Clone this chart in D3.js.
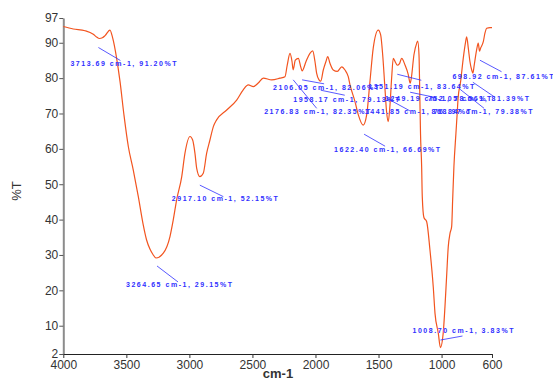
<!DOCTYPE html>
<html>
<head>
<meta charset="utf-8">
<script src="https://cdn.jsdelivr.net/npm/d3@7"></script>
<style>
  body { margin: 0; background: #fff; }
  text { font-family: "Liberation Sans", Arial, sans-serif; }
</style>
</head>
<body>
<svg id="chart" width="553" height="381"></svg>
<script>
// spectrum: wavenumber (cm-1) and transmittance (%T)
var wavenumbers = [4000, 3921, 3828, 3762, 3735, 3714, 3690, 3669, 3630, 3608, 3577, 3550, 3519,
    3484, 3445, 3405, 3366, 3340, 3312, 3290, 3265, 3207, 3154, 3128, 3101, 3061, 3035, 2995, 2974, 2956,
    2942, 2917, 2890, 2863, 2837, 2810, 2784, 2704, 2625, 2573, 2533, 2493, 2454, 2414, 2347,
    2282, 2242, 2224, 2202, 2186, 2177, 2160, 2136, 2117, 2106, 2075, 2044, 2022, 2004, 1991,
    1972, 1958, 1938, 1917, 1903, 1885, 1859, 1827, 1792, 1766, 1740, 1726, 1687, 1660, 1622,
    1594, 1568, 1542, 1502, 1483, 1467, 1449, 1436, 1423, 1409, 1396, 1383, 1365, 1351, 1335,
    1316, 1290, 1264, 1249, 1240, 1219, 1197, 1189, 1179, 1172, 1167, 1158, 1153, 1140, 1118,
    1092, 1066, 1052, 1026, 1009, 987, 973, 960, 947, 933, 920, 912, 902, 886, 876, 869, 849,
    828, 809, 801, 788, 775, 761, 752, 741, 722, 709, 699, 690, 669, 656, 642, 616, 600];
var transmittance = [94.6, 93.9, 93.4, 92.4, 91.6, 91.2, 91.4, 92.0, 93.6, 91.3, 85.6, 79.0, 69.6,
    60.6, 54.0, 46.5, 38.5, 34.3, 31.6, 30.2, 29.15, 30.5, 35.2, 39.9, 45.6, 52.1, 58.8, 63.5, 62.5, 58.8,
    54.5, 52.15, 53.1, 58.8, 62.5, 66.3, 68.2, 71.0, 73.8, 76.7, 78.1, 77.6, 78.6, 80.0, 79.5,
    80.0, 80.4, 83.7, 87.0, 84.7, 82.35, 85.1, 85.6, 83.2, 82.06, 84.7, 87.0, 87.7, 84.7, 81.4,
    79.5, 79.13, 82.3, 84.7, 86.1, 84.2, 82.3, 81.9, 83.2, 82.3, 80.4, 78.1, 73.4, 69.6, 66.69,
    69.6, 79.0, 88.5, 93.6, 92.2, 86.6, 77.1, 70.5, 67.7, 72.4, 80.0, 85.6, 84.4, 83.64, 84.0,
    85.6, 83.7, 81.0, 78.56, 80.0, 86.6, 89.9, 90.5, 86.6, 74.0, 64.4, 55.0, 46.5, 40.6, 39.4,
    31.4, 21.0, 13.5, 7.9, 3.83, 7.9, 15.4, 23.9, 32.3, 36.1, 38.0, 45.6, 55.0, 64.4, 70.1, 74.3, 79.0,
    85.6, 90.3, 91.7, 88.5, 84.7, 82.3, 81.39, 83.7, 88.0, 89.9, 87.61, 88.5, 90.3, 92.7, 94.1, 94.3, 94.3];

// picked peaks shown as labels
var peakWavenumbers = [3713.69, 3264.65, 2917.10, 2176.83, 2106.05, 1958.17, 1622.40, 1441.85,
    1351.19, 1249.19, 1008.70, 868.97, 752.05, 698.92];
var peakValues = [91.20, 29.15, 52.15, 82.35, 82.06, 79.13, 66.69, 76.84,
    83.64, 78.56, 3.83, 79.38, 81.39, 87.61];

var xTicks = [4000, 3500, 3000, 2500, 2000, 1500, 1000, 600];
var yTicks = [2, 10, 20, 30, 40, 50, 60, 70, 80, 90, 97];

// label placement relative to its peak: [text dx, text dy, leader x1, y1, x2, y2]
var labelOffsets = [
    [24, 27, -1, 9, 21, 22],
    [23, 29, 1, 8, 22, 24],
    [25, 24.5, 0, 8.5, 23.5, 20],
    [24, 44.5, 0, 10, 23.5, 38.5],
    [24, 19, 0, 9, 22, 13],
    [25.5, 20.5, 0, 9, 24, 14],
    [24, 27, 1, 9, 22, 21],
    [32, 25, 1, 9, 24, 21.5],
    [24, 24, 0, 9, 24, 15],
    [28, 18, 0, 9, 24, 14],
    [22.5, -15, 0, -7.5, 22, -11.5],
    [24, 34, 2, 9, 26, 28],
    [5.6, 28, 0, 9, 22, 24],
    [23.4, 28, 0.4, 9, 22, 20.5]
];

var svg = d3.select("#chart");

var x = d3.scaleLinear().domain([4000, 600]).range([63.3, 492]);
var y = d3.scaleLinear().domain([2, 97]).range([354, 18]);

// y axis (grey, heavier)
var yAxis = svg.append("g")
    .attr("transform", "translate(63.3,0)")
    .call(d3.axisLeft(y).tickValues(yTicks).tickSize(4).tickSizeOuter(0).tickPadding(1)
        .tickFormat(d3.format("d")));
yAxis.select(".domain").attr("stroke", "#8c8c8c").attr("stroke-width", 2);
yAxis.selectAll(".tick line").attr("stroke", "#555");
yAxis.selectAll("text").attr("font-size", 12).attr("fill", "#333")
    .style("font-family", "'Liberation Sans', Arial, sans-serif");

// x axis
var xAxis = svg.append("g")
    .attr("transform", "translate(0,354)")
    .call(d3.axisBottom(x).tickValues(xTicks).tickSize(4).tickSizeOuter(0).tickPadding(2)
        .tickFormat(d3.format("d")));
xAxis.select(".domain").attr("stroke", "#222").attr("stroke-width", 1.2);
xAxis.selectAll(".tick line").attr("stroke", "#333");
xAxis.selectAll("text").attr("font-size", 12).attr("fill", "#333")
    .style("font-family", "'Liberation Sans', Arial, sans-serif");

// axis titles
svg.append("text")
    .attr("x", 278).attr("y", 378)
    .attr("text-anchor", "middle")
    .attr("font-size", 13).attr("font-weight", "bold").attr("fill", "#333")
    .text("cm-1");
svg.append("text")
    .attr("transform", "translate(21,191) rotate(-90)")
    .attr("text-anchor", "middle")
    .attr("font-size", 13).attr("fill", "#333")
    .text("%T");

// spectrum line
var points = wavenumbers.map(function(w, i) {
    return [w, transmittance[i]];
});
var line = d3.line()
    .x(function(d) { return x(d[0]); })
    .y(function(d) { return y(d[1]); })
    .curve(d3.curveMonotoneX);

svg.append("path")
    .datum(points)
    .attr("d", line)
    .attr("fill", "none")
    .attr("stroke", "#f2541f")
    .attr("stroke-width", 1.2)
    .attr("stroke-linejoin", "round");

// peak labels with leader lines
var labelColor = "#2f2fff";
var peaks = svg.append("g");

peakWavenumbers.forEach(function(w, i) {
    var px = x(w);
    var py = y(peakValues[i]);
    var off = labelOffsets[i];
    var label = w.toFixed(2) + " cm-1, " + peakValues[i].toFixed(2) + "%T";

    peaks.append("line")
        .attr("x1", px + off[2]).attr("y1", py + off[3])
        .attr("x2", px + off[4]).attr("y2", py + off[5])
        .attr("stroke", labelColor)
        .attr("stroke-width", 0.8);

    peaks.append("text")
        .attr("x", px + off[0]).attr("y", py + off[1])
        .attr("text-anchor", "middle")
        .attr("font-size", 7)
        .attr("font-weight", "bold")
        .attr("fill", labelColor)
        .attr("textLength", label.length * 5.05)
        .attr("lengthAdjust", "spacing")
        .text(label);
});
</script>
</body>
</html>
